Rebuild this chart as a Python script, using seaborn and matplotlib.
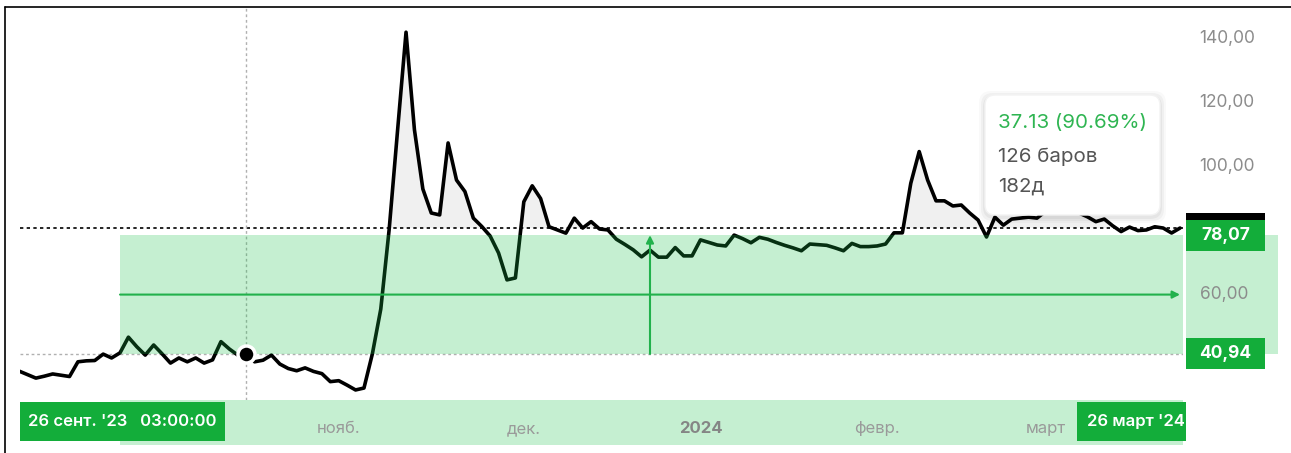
import numpy as np
import pandas as pd
import matplotlib
matplotlib.use("Agg")
import matplotlib.pyplot as plt
import matplotlib.transforms as mtransforms
from matplotlib.patches import Rectangle, FancyBboxPatch
from matplotlib.lines import Line2D
import seaborn as sns

# Daily closes, one value per trading day, 8 Sep 2023 – 26 Mar 2024
prices = [
    35.6, 34.5, 33.4, 34.0, 34.7, 34.3, 33.9, 38.5, 38.8, 38.9, 40.9, 39.7,
    41.3, 46.2, 43.2, 40.6, 43.75, 41.0, 38.1, 39.7, 38.5, 39.7,
    38.1, 39.1, 44.8, 42.5, 40.6, 40.94, 38.5, 39.0, 40.6, 37.8,
    36.4, 35.7, 36.6, 35.5, 34.8, 32.3, 32.6, 31.2, 29.7, 30.3,
    41.0, 55.0, 80.0, 111.0, 141.5, 111.0, 92.5, 85.0, 84.4, 106.9,
    95.3, 91.7, 83.4, 80.8, 77.8, 72.5, 64.1, 64.7, 88.5, 93.5,
    89.5, 80.7, 79.7, 78.7, 83.4, 80.3, 82.3, 80.0, 79.7, 76.8,
    75.2, 73.5, 71.3, 73.4, 71.2, 71.2, 74.2, 71.6, 71.6, 76.6,
    75.8, 75.0, 74.7, 78.1, 77.0, 75.7, 77.4, 76.8, 75.8, 74.9,
    74.1, 73.2, 75.3, 75.1, 74.9, 74.1, 73.2, 75.5, 74.5, 74.5,
    74.7, 75.3, 78.8, 78.8, 94.3, 104.2, 95.3, 88.8, 88.8, 87.2,
    87.5, 85.0, 82.8, 77.5, 83.7, 81.2, 83.1, 83.4, 83.7, 83.4,
    85.5, 86.0, 86.5, 86.0, 85.0, 83.8, 82.3, 83.1, 81.0, 79.2,
    80.6, 79.5, 79.7, 80.7, 80.3, 78.75, 80.3,
]
first_day = "2023-09-08"
last_day = "2024-03-26"
holidays = ["2024-01-01", "2024-01-02", "2024-02-23", "2024-03-08"]

range_start_date = "2023-09-26"
crosshair_date = "2023-10-17"
range_low = 40.94
range_high = 78.07
range_change = "37.13 (90.69%)"
range_bars = "126 баров"
range_days = "182д"
start_label = "26 сент. '23   03:00:00"
end_label = "26 март '24"

month_starts = ["2023-11-01", "2023-12-01", "2024-01-01", "2024-02-01", "2024-03-01"]
month_labels = ["нояб.", "дек.", "2024", "февр.", "март"]
price_ticks = [60, 100, 120, 140]
price_tick_labels = ["60,00", "100,00", "120,00", "140,00"]

# ---------------------------------------------------------------------------
W, H = 1291, 453
GREEN = "#13ad3a"
MINT = "#1bc34b"
MINT_ALPHA = 0.25

sns.set_theme(style="white")
plt.rcParams["font.family"] = ["Inter", "DejaVu Sans"]

dates = pd.bdate_range(first_day, last_day, freq="C", holidays=holidays)
df = pd.DataFrame({"date": dates, "price": prices})
df["bar"] = np.arange(len(df)) - int(np.where(dates == pd.Timestamp(range_start_date))[0][0])
end_bar = int(df["bar"].iloc[-1])
cross_bar = int(df.loc[df["date"] == pd.Timestamp(crosshair_date), "bar"].iloc[0])
cross_price = float(df.loc[df["date"] == pd.Timestamp(crosshair_date), "price"].iloc[0])
last_price = float(df["price"].iloc[-1])
tick_bars = [int(df.loc[df["date"] >= pd.Timestamp(m), "bar"].iloc[0]) for m in month_starts]

fig = plt.figure(figsize=(W / 100, H / 100), dpi=100)
fig.patch.set_facecolor("white")
ax = fig.add_axes([20 / W, 53 / H, 1163 / W, 392 / H])
ax.set_facecolor("white")

# pixel transform with the origin at the top-left corner of the figure
px = mtransforms.Affine2D().scale(1 / W, -1 / H).translate(0, 1) + fig.transFigure
px_x_data_y = mtransforms.blended_transform_factory(px, ax.transData)
data_x_px_y = mtransforms.blended_transform_factory(ax.transData, px)

bar_w = 1060 / 126
ax.set_xlim(-100 / bar_w, 1063 / bar_w)
ax.set_ylim(60 - 107 / 3.2, 60 + 285 / 3.2)

# area above the last-price baseline
p = df["price"].to_numpy()
ax.fill_between(df["bar"], p, last_price, where=p > last_price,
                interpolate=True, color="#f0f0f0", lw=0, zorder=1)

sns.lineplot(data=df, x="bar", y="price", ax=ax, color="black", lw=2.6, zorder=3)

ax.axhline(last_price, color="black", ls=(0, (2, 2)), lw=1.2, zorder=2)
ax.axhline(cross_price, color="#b0b0b0", ls=(0, (2, 2)), lw=1.0, zorder=2)
ax.axvline(cross_bar, color="#b0b0b0", ls=(0, (2, 2)), lw=1.0, zorder=2)

# measured range
ax.add_patch(Rectangle((0, range_low), ax.get_xlim()[1], range_high - range_low,
                       color=MINT, alpha=MINT_ALPHA, lw=0, zorder=4))
mid = (range_low + range_high) / 2
ax.annotate("", xy=(end_bar, mid), xytext=(0, mid),
            arrowprops=dict(arrowstyle="-|>", color="#22b14c", lw=1.5,
                            mutation_scale=11, shrinkA=0, shrinkB=0), zorder=5)
ax.annotate("", xy=(end_bar / 2, range_high), xytext=(end_bar / 2, range_low),
            arrowprops=dict(arrowstyle="-|>", color="#22b14c", lw=1.5,
                            mutation_scale=11, shrinkA=0, shrinkB=0), zorder=5)

ax.scatter([cross_bar], [cross_price], s=150, color="black", edgecolor="white",
           linewidth=2.5, zorder=6)

# axes styling
for s in ax.spines.values():
    s.set_visible(False)
ax.set_xlabel("")
ax.set_ylabel("")
ax.yaxis.tick_right()
ax.set_yticks(price_ticks)
ax.set_yticklabels(price_tick_labels)
ax.tick_params(axis="y", length=0, pad=12, labelsize=12.5, labelcolor="#8c8c8c")
ax.set_xticks(tick_bars)
ax.set_xticklabels(month_labels)
ax.tick_params(axis="x", length=4, width=1, color="#c8c8c8", pad=11,
               labelsize=12, labelcolor="#9a9a9a")
for lbl in ax.get_xticklabels():
    if lbl.get_text() == "2024":
        lbl.set_fontweight("bold")
        lbl.set_color("#858585")

# time-axis band for the measured range
ax.add_patch(Rectangle((0, 400), ax.get_xlim()[1], 45, transform=data_x_px_y,
                       color=MINT, alpha=MINT_ALPHA, lw=0, clip_on=False, zorder=0))
# price-axis band
ax.add_patch(Rectangle((1186, range_low), 92, range_high - range_low,
                       transform=px_x_data_y, color=MINT, alpha=MINT_ALPHA,
                       lw=0, clip_on=False, zorder=0))

# price labels on the right
box_h = 31 / 3.2
ax.add_patch(Rectangle((1186, last_price - box_h / 2), 79, box_h, transform=px_x_data_y,
                       color="black", lw=0, clip_on=False, zorder=7))
for val in (range_high, range_low):
    ax.add_patch(Rectangle((1186, val - box_h / 2), 79, box_h, transform=px_x_data_y,
                           color=GREEN, lw=0, clip_on=False, zorder=8))
    ax.text(1225.5, val, f"{val:.2f}".replace(".", ","), transform=px_x_data_y,
            ha="center", va="center", color="white", fontsize=12.5,
            fontweight="bold", clip_on=False, zorder=9)

# date labels on the time axis
ax.add_patch(Rectangle((20, 402), 205, 39, transform=px, color=GREEN, lw=0,
                       clip_on=False, zorder=8))
ax.text(28, 421.5, start_label, transform=px, ha="left", va="center",
        color="white", fontsize=12, fontweight="semibold", clip_on=False, zorder=9)
ax.add_patch(Rectangle((1077, 402), 109, 39, transform=px, color=GREEN, lw=0,
                       clip_on=False, zorder=8))
ax.text(1087, 421.5, end_label, transform=px, ha="left", va="center",
        color="white", fontsize=12, fontweight="semibold", clip_on=False, zorder=9)

# measurement tooltip
for grow, a in ((6, 0.025), (4, 0.035), (2, 0.045)):
    ax.add_patch(FancyBboxPatch((985 - grow, 95 - grow + 2), 175 + 2 * grow, 120 + 2 * grow,
                                boxstyle="round,pad=0,rounding_size=12", transform=px,
                                color="black", alpha=a, lw=0, clip_on=False, zorder=10))
ax.add_patch(FancyBboxPatch((985, 95), 175, 120, boxstyle="round,pad=0,rounding_size=10",
                            transform=px, facecolor="white", edgecolor="#f3f3f3", lw=1,
                            clip_on=False, zorder=11))
ax.text(998, 123, range_change, transform=px, ha="left", va="center",
        color="#2fb552", fontsize=14.8, clip_on=False, zorder=12)
ax.text(998, 157, range_bars, transform=px, ha="left", va="center",
        color="#555555", fontsize=14.8, clip_on=False, zorder=12)
ax.text(998, 187, range_days, transform=px, ha="left", va="center",
        color="#555555", fontsize=14.8, clip_on=False, zorder=12)

# outer frame
fig.add_artist(Line2D([5 / W, 1], [1 - 7 / H, 1 - 7 / H], color="black", lw=1.2))
fig.add_artist(Line2D([5 / W, 5 / W], [0, 1 - 7 / H], color="black", lw=1.2))

fig.savefig("out.png", dpi=100, facecolor="white")
